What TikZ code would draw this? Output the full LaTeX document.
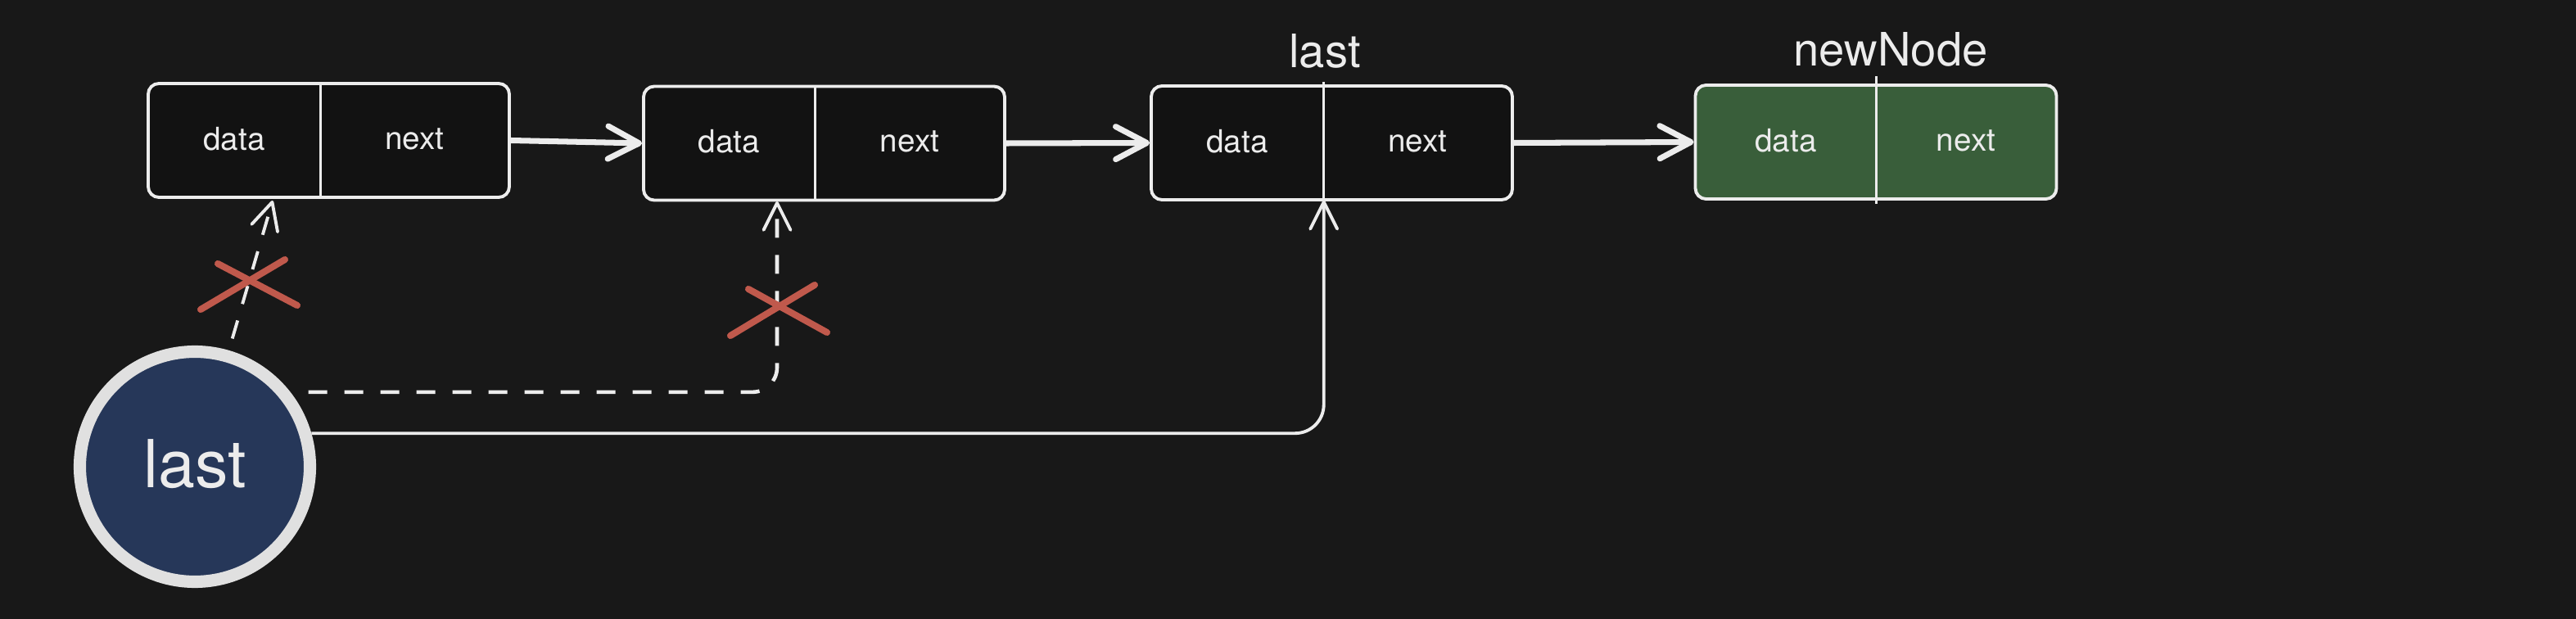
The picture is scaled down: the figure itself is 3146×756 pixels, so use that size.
\documentclass[tikz,border=0pt]{standalone}
\usepackage{fontspec}
\setmainfont{TeX Gyre Heros}
\usetikzlibrary{arrows.meta,calc}
\definecolor{bg}{HTML}{181818}
\definecolor{boxfill}{HTML}{121212}
\definecolor{linec}{HTML}{ECECEC}
\definecolor{greenfill}{HTML}{395E3A}
\definecolor{bluefill}{HTML}{263759}
\definecolor{ringc}{HTML}{E0E0E0}
\definecolor{redx}{HTML}{C0594C}
\tikzset{
  listbox/.style={draw=linec, line width=1.1pt, rounded corners=1.3mm, fill=boxfill,
    minimum height=13.9mm, minimum width=44.1mm, inner sep=0pt},
  cell/.style={inner sep=0pt, minimum height=13.9mm, font=\fontsize{11}{13}\selectfont, text=linec},
  divider/.style={draw=linec, line width=0.9pt},
  bigarrow/.style={draw=linec, line width=2pt, line cap=round,
    -{Straight Barb[length=3.8mm, width=4mm, line width=2pt, round]}},
  thinarrow/.style={draw=linec, line width=1.1pt,
    -{Straight Barb[length=3.3mm, width=3.3mm, line width=1.1pt, round]}},
  dasharrow/.style={thinarrow, dash pattern=on 2.3mm off 2.1mm},
  crossline/.style={draw=redx, line width=2.3pt, line cap=round},
  toplabel/.style={font=\fontsize{16}{19}\selectfont, text=linec, inner sep=0pt},
}
\newcommand{\celltext}[1]{\raisebox{0.45mm}{#1}}
\begin{document}
\begin{tikzpicture}[x=0.1mm, y=-0.1mm]
\fill[bg] (0,0) rectangle (3146,756);
\useasboundingbox (0,0) rectangle (3146,756);

% boxes
\node[listbox] (b1) at (401.5,171.5) {};
\node[listbox] (b2) at (1006.5,175) {};
\node[listbox] (b3) at (1626.5,174.5) {};
\node[listbox, fill=greenfill] (b4) at (2291,173.5) {};

% cells
\node[cell, minimum width=21mm] (d1) at (286,171.5) {\celltext{data}};
\node[cell, minimum width=23.1mm] (n1) at (506.5,171.5) {\celltext{next}};
\node[cell, minimum width=20.9mm] (d2) at (890.5,175) {\celltext{data}};
\node[cell, minimum width=23.2mm] (n2) at (1111,175) {\celltext{next}};
\node[cell, minimum width=21mm] (d3) at (1511,174.5) {\celltext{data}};
\node[cell, minimum width=23.1mm] (n3) at (1731.5,174.5) {\celltext{next}};
\node[cell, minimum width=22mm] (d4) at (2181,173.5) {\celltext{data}};
\node[cell, minimum width=22mm] (n4) at (2401,173.5) {\celltext{next}};

% dividers
\draw[divider] (d1.north east) -- (d1.south east);
\draw[divider] (d2.north east) -- (d2.south east);
\draw[divider] ([yshift=0.4mm]d3.north east) -- (d3.south east);
\draw[divider] ([yshift=1mm]d4.north east) -- ([yshift=-0.5mm]d4.south east);

% top labels
\node[toplabel] (l3) at (1618,62) {last};
\node[toplabel] (l4) at (2309,60) {newNode};

% next arrows
\draw[bigarrow] (b1.east) -- (b2.west);
\draw[bigarrow] (b2.east) -- (b3.west);
\draw[bigarrow] (b3.east) -- (b4.west);

% pointer circle
\node[circle, draw=ringc, line width=4.3pt, fill=bluefill, minimum size=28.1mm,
  inner sep=0pt, font=\fontsize{23}{27}\selectfont, text=linec] (c) at (238,570) {\raisebox{0.8mm}{last}};

% targets
\coordinate (t1) at (333,245);
\coordinate (t2) at (949,246);

% connectors
\draw[thinarrow, rounded corners=3.5mm] (c.16.5) -| (d3.south east);
\draw[dasharrow, rounded corners=3mm, line width=1.3pt, shorten <=2.2mm] (c.38) -| (t2);
\draw[dasharrow, shorten <=1.5mm] (c) -- (t1);

% red crosses
\draw[crossline] (245,378) -- (348,317);
\draw[crossline] (266,322) -- (363,373);
\draw[crossline] (892,410) -- (995,348);
\draw[crossline] (914,353) -- (1010,406);
\end{tikzpicture}
\end{document}
